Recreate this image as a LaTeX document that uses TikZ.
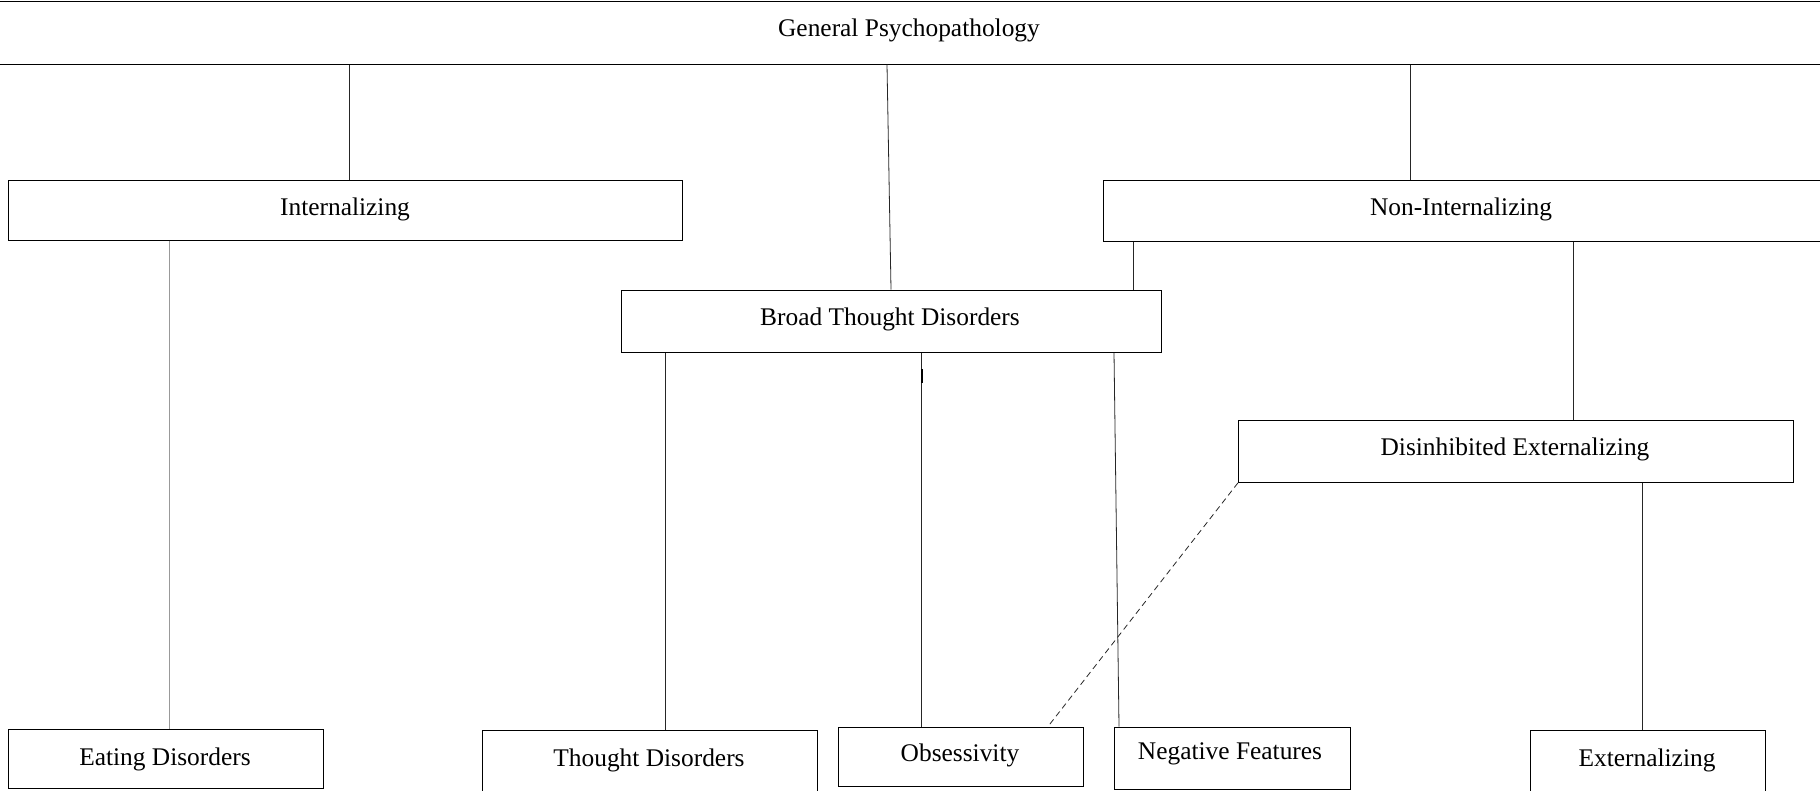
\documentclass[tikz,border=0pt]{standalone}
\usepackage{fontspec}
\setmainfont{Liberation Serif}
\begin{document}
\begin{tikzpicture}[x=1pt,y=-1pt,
  box/.style={draw=black,line width=1pt,rectangle,inner sep=0pt,fill=none},
  lbl/.style={inner sep=0pt,font=\fontsize{25.4}{30}\selectfont},
  conn/.style={draw=black!85,line width=0.8pt},
  faint/.style={draw=black!40,line width=0.8pt},
  dashconn/.style={draw=black!85,line width=0.8pt,dash pattern=on 6pt off 4pt}]
\useasboundingbox (0,0) rectangle (1820,790);
% boxes
\node[box,minimum width=1840pt,minimum height=62.3pt] (gp) at (910,32.85) {};
\node[box,minimum width=674pt,minimum height=59.3pt] (int) at (345,210.35) {};
\node[box,minimum width=727pt,minimum height=60.3pt] (nonint) at (1466.5,210.85) {};
\node[box,minimum width=540pt,minimum height=62.3pt] (btd) at (891,321.15) {};
\node[box,minimum width=554.5pt,minimum height=62.3pt] (de) at (1515.75,451.15) {};
\node[box,minimum width=315pt,minimum height=59pt] (eat) at (165.5,758.5) {};
\node[box,minimum width=335pt,minimum height=69.3pt] (td) at (649.5,765.35) {};
\node[box,minimum width=245pt,minimum height=59pt] (obs) at (960.5,756.5) {};
\node[box,minimum width=236pt,minimum height=62pt] (neg) at (1232,758) {};
\node[box,minimum width=235pt,minimum height=70pt] (ext) at (1647.5,765) {};
% labels
\node[lbl] (gpt) at (909,30.5) {General Psychopathology};
\node[lbl] (intt) at (345,209.5) {Internalizing};
\node[lbl] (nonintt) at (1461,209.5) {Non-Internalizing};
\node[lbl] (btdt) at (890,319.2) {Broad Thought Disorders};
\node[lbl] (det) at (1515,449.2) {Disinhibited Externalizing};
\node[lbl] (eatt) at (165,759.2) {Eating Disorders};
\node[lbl] (tdt) at (649,760.5) {Thought Disorders};
\node[lbl] (obst) at (960,755.5) {Obsessivity};
\node[lbl] (negt) at (1230,754.2) {Negative Features};
\node[lbl] (extt) at (1647,760.5) {Externalizing};
% connectors
\draw[conn] (gp.south -| 349,0) -- (int.north -| 349,0);
\draw[conn] (gp.south -| 887,0) -- (btd.north -| 891,0);
\draw[conn] (gp.south -| 1410,0) -- (nonint.north -| 1410,0);
\draw[faint] (int.south -| 169.5,0) -- (eat.north -| 169.5,0);
\draw[conn] (nonint.south -| 1133,0) -- (btd.north -| 1133,0);
\draw[conn] (nonint.south -| 1573,0) -- (de.north -| 1573,0);
\draw[conn] (btd.south -| 665,0) -- (td.north -| 665,0);
\draw[conn] (btd.south -| 921.6,0) -- (obs.north -| 921.6,0);
\draw[line width=2.2pt,black] ([yshift=-16pt]btd.south -| 921.6,0) -- ([yshift=-30pt]btd.south -| 921.6,0);
\draw[conn] (btd.south -| 1114,0) -- (neg.north -| 1119,0);
\draw[conn] (de.south -| 1642,0) -- (ext.north -| 1642,0);
\draw[dashconn] (de.south west) -- (obs.north -| 1048,0);
\end{tikzpicture}
\end{document}
